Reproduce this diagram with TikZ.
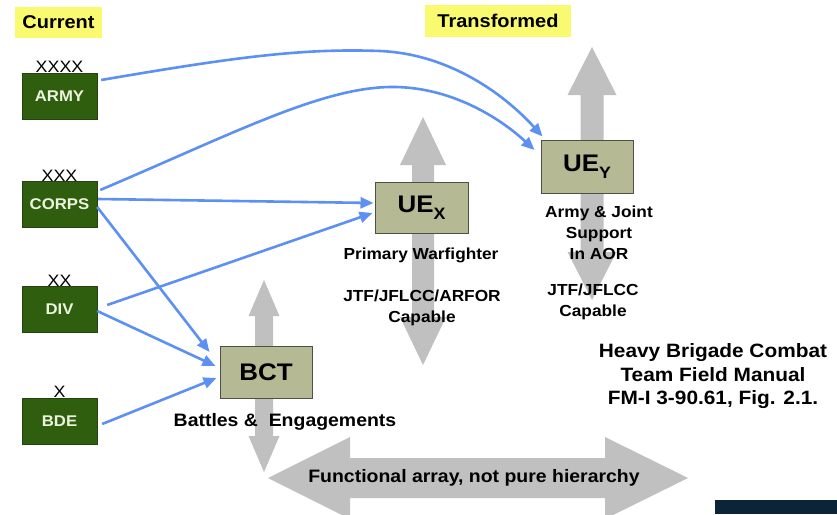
\documentclass[tikz,border=0pt]{standalone}
\usepackage{fontspec}
\setmainfont{Liberation Sans}[FakeStretch=1.08]
\usetikzlibrary{arrows.meta}

\definecolor{unitgreen}{RGB}{47,94,14}
\definecolor{greenedge}{RGB}{36,66,18}
\definecolor{unittext}{RGB}{236,244,222}
\definecolor{khaki}{RGB}{181,186,148}
\definecolor{khakiedge}{RGB}{78,80,70}
\definecolor{tagyellow}{RGB}{250,250,112}
\definecolor{linkblue}{RGB}{92,144,242}
\definecolor{arrowgray}{RGB}{192,192,192}
\definecolor{navy}{RGB}{12,36,56}

% vertical double-headed block arrow: cx, ytop, ybot, shaft width, head width, head length
\newcommand\grayvarrow[6]{%
  \fill[arrowgray] (#1,#2) -- ({#1+#5/2},{#2+#6}) -- ({#1+#4/2},{#2+#6})
    -- ({#1+#4/2},{#3-#6}) -- ({#1+#5/2},{#3-#6}) -- (#1,#3)
    -- ({#1-#5/2},{#3-#6}) -- ({#1-#4/2},{#3-#6}) -- ({#1-#4/2},{#2+#6})
    -- ({#1-#5/2},{#2+#6}) -- cycle;}

\tikzset{
  echelon/.style={draw=greenedge, fill=unitgreen, minimum width=75pt,
    minimum height=46pt, inner sep=0pt, text=unittext,
    font=\bfseries\fontsize{15.5}{18}\selectfont},
  unitbox/.style={draw=khakiedge, fill=khaki, line width=1pt,
    minimum width=92pt, minimum height=52pt, inner sep=0pt,
    font=\bfseries\fontsize{24}{28}\selectfont},
  rank/.style={inner sep=0pt, anchor=south, font=\fontsize{16.5}{16.5}\selectfont},
  tag/.style={fill=tagyellow, inner sep=0pt,
    font=\bfseries\fontsize{18.5}{22}\selectfont},
  note/.style={align=center, inner sep=0pt,
    font=\bfseries\fontsize{16}{21}\selectfont},
  link/.style={draw=linkblue, line width=2.6pt,
    -{Triangle[length=13pt,width=11pt]}},
}

\newcommand\sub[1]{\raisebox{-7pt}{\fontsize{16.5}{16.5}\selectfont #1}}

\begin{document}
\begin{tikzpicture}[x=1pt,y=-1pt]
\useasboundingbox (0,0) rectangle (837,514);
\clip (0,0) rectangle (837,514);

% grey block arrows
\grayvarrow{264}{280}{472}{18}{31}{36}
\grayvarrow{423}{117}{365}{22}{46}{48}
\grayvarrow{592}{47}{300}{23}{49}{48}
\fill[arrowgray] (268,478) -- (350,437) -- (350,458) -- (605,458) -- (605,437)
  -- (688,478) -- (605,519) -- (605,498) -- (350,498) -- (350,519) -- cycle;

% headers
\node[tag, minimum width=87pt, minimum height=31pt] (current) at (58.5,22.5) {Current};
\node[tag, minimum width=146pt, minimum height=32pt] (transformed) at (498,21) {Transformed};

% current echelons
\node[echelon] (army)  at (59.5,96)    {ARMY};
\node[echelon] (corps) at (59.5,204.5) {CORPS};
\node[echelon] (div)   at (59.5,309.5) {DIV};
\node[echelon] (bde)   at (59.5,421)   {BDE};
\node[rank] (armyrank)  at (army.north)  {XXXX};
\node[rank] (corpsrank) at (corps.north) {XXX};
\node[rank] (divrank)   at (div.north)   {XX};
\node[rank] (bderank)   at (bde.north)   {X};

% transformed units
\node[unitbox] (bct) at (266,372) {BCT};
\node[unitbox, minimum width=93pt, minimum height=51pt] (uex) at (421.5,207.5) {UE\sub{X}};
\node[unitbox, minimum height=53pt] (uey) at (587,166.5) {UE\sub{Y}};

% labels
\node[note, font=\bfseries\fontsize{18}{22}\selectfont] (battles) at (285,422) {Battles \&\ \ Engagements};
\node[note] (warfighter) at (421,255) {Primary Warfighter};
\node[note] (uexcap) at (422,307.5) {JTF/JFLCC/ARFOR\\Capable};
\node[note] (ueysupport) at (599,233) {Army \& Joint\\Support\\In AOR};
\node[note] (ueycap) at (593,302) {JTF/JFLCC\\Capable};
\node[note, font=\bfseries\fontsize{19.3}{23.5}\selectfont] (source) at (713,376.5)
  {Heavy Brigade Combat\\Team Field Manual\\FM-I 3-90.61, Fig. 2.1.};
\node[note, font=\bfseries\fontsize{18}{22}\selectfont] (functional) at (474,478)
  {Functional array, not pure hierarchy};

% connectors
\draw[link] ([shift={(4,-16)}]army.east) .. controls (230,58) and (300,48) .. (380,51)
  .. controls (450,54) and (505,95) .. ([shift={(2,-3)}]uey.north west);
\draw[link] ([shift={(3,-14.5)}]corps.east) .. controls (230,135) and (320,88) .. (390,87)
  .. controls (450,86) and (500,118) .. ([shift={(-6,-16.5)}]uey.west);
\draw[link] ([shift={(1,-5.5)}]corps.east) -- ([shift={(-1,-4.5)}]uex.west);
\draw[link] ([shift={(0,2.5)}]corps.east) -- ([shift={(-10,-20)}]bct.west);
\draw[link] ([shift={(10,-4.5)}]div.east) -- ([shift={(-2,5.5)}]uex.west);
\draw[link] ([shift={(0,1.5)}]div.east) -- ([shift={(-4,-6)}]bct.west);
\draw[link] ([shift={(5,3)}]bde.east) -- ([shift={(-3,6)}]bct.west);

% corner band
\fill[navy] (715,500) rectangle (837,514);
\end{tikzpicture}
\end{document}
